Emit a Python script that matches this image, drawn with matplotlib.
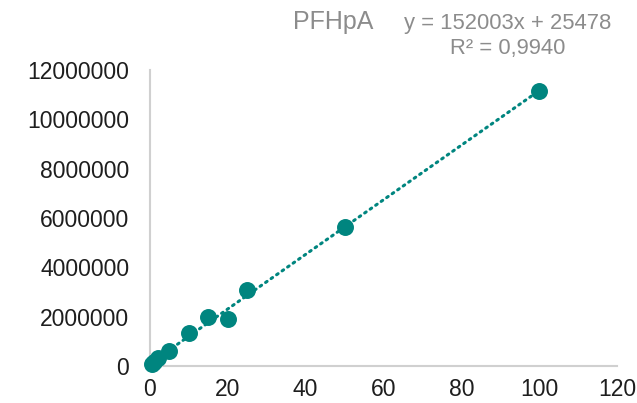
import numpy as np
import matplotlib
matplotlib.use('Agg')
import matplotlib.pyplot as plt

plt.rcParams['font.family'] = ['Liberation Sans', 'DejaVu Sans']

conc = [0.5, 1, 2, 5, 10, 15, 20, 25, 50, 100]
area = [90000, 170000, 320000, 620000, 1340000, 1980000, 1900000, 3100000, 5620000, 11150000]
xticks = [0, 20, 40, 60, 80, 100, 120]
yticks = [0, 2000000, 4000000, 6000000, 8000000, 10000000, 12000000]
teal = '#00857F'

def main():
    fig = plt.figure(figsize=(6.37, 4.03), dpi=100)
    ax = fig.add_axes([150/637, 37/403, 467/637, 296/403])

    # linear trendline through the points
    k, b = np.polyfit(conc, area, 1)
    xs = np.array([0, max(conc)])
    ax.plot(xs, k*xs + b, color=teal, lw=2.2, linestyle=(0, (0.6, 1.6)),
            dash_capstyle='round', zorder=2)
    ax.scatter(conc, area, s=125, color=teal, zorder=3, clip_on=False)

    ax.set_xlim(0, 120)
    ax.set_ylim(0, 12000000)
    ax.set_xticks(xticks)
    ax.set_yticks(yticks)
    ax.set_xticklabels([str(t) for t in xticks])
    ax.set_yticklabels([str(t) for t in yticks])
    ax.tick_params(length=0, labelsize=16.5, colors='#1E1E1E')
    ax.tick_params(axis='y', pad=15)
    ax.tick_params(axis='x', pad=9)
    for s in ['top', 'right']:
        ax.spines[s].set_visible(False)
    for s in ['left', 'bottom']:
        ax.spines[s].set_color('#D0D0D0')
        ax.spines[s].set_linewidth(1.5)

    fig.text(293/637, 1 - 22/403, 'PFHpA', fontsize=18, color='#8C8C8C',
             ha='left', va='center')
    fig.text(508/637, 1 - 36/403, 'y = 152003x + 25478\nR² = 0,9940',
             fontsize=15.8, color='#8C8C8C', ha='center', va='center',
             multialignment='center', linespacing=1.25)

    fig.savefig('out.png', dpi=100)

main()
